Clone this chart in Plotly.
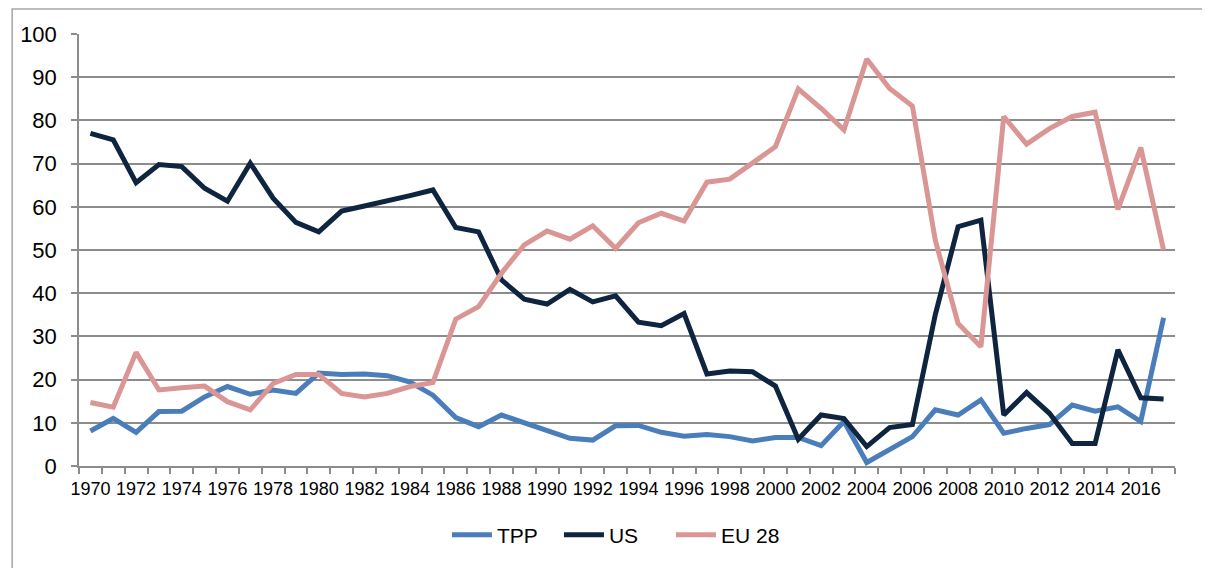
import plotly.graph_objects as go

years = list(range(1970, 2018))

tpp = [8.1, 11.0, 7.8, 12.6, 12.7, 16.0, 18.4, 16.6, 17.6, 16.8,
       21.5, 21.2, 21.3, 20.9, 19.4, 16.4, 11.2, 9.1, 11.8, 10.0,
       8.2, 6.4, 6.0, 9.3, 9.4, 7.8, 6.9, 7.3, 6.8, 5.8,
       6.6, 6.6, 4.7, 10.3, 0.8, 3.7, 6.8, 13.0, 11.8, 15.3,
       7.6, 8.7, 9.6, 14.1, 12.7, 13.7, 10.3, 34.3]

us = [77.0, 75.5, 65.6, 69.8, 69.3, 64.3, 61.3, 70.1, 62.0, 56.4,
      54.2, 59.0, 60.2, 61.3, 62.6, 63.9, 55.2, 54.2, 43.1, 38.6,
      37.5, 40.9, 38.0, 39.4, 33.3, 32.5, 35.3, 21.3, 22.0, 21.8,
      18.5, 6.2, 11.8, 11.0, 4.5, 8.9, 9.6, 35.0, 55.4, 56.9,
      11.8, 17.0, 12.2, 5.2, 5.2, 26.9, 15.8, 15.5]

eu28 = [14.7, 13.6, 26.3, 17.6, 18.1, 18.5, 14.9, 13.0, 19.1, 21.2,
        21.2, 16.8, 16.0, 16.8, 18.4, 19.3, 34.0, 36.9, 44.6, 51.2,
        54.4, 52.5, 55.6, 50.4, 56.3, 58.5, 56.7, 65.7, 66.4, 70.1,
        73.9, 87.3, 82.8, 77.8, 94.2, 87.4, 83.3, 52.3, 33.0, 27.6,
        80.9, 74.5, 78.1, 80.9, 81.9, 59.4, 73.7, 50.0]

year_labels = [str(y) for y in range(1970, 2017, 2)]

series = [("TPP", tpp, "#4a7ebb"), ("US", us, "#0f243e"), ("EU 28", eu28, "#d99694")]

fig = go.Figure()
for name, vals, color in series:
    fig.add_trace(go.Scatter(
        x=years, y=vals, name=name, mode="lines",
        line=dict(color=color, width=5),
    ))

grid = "#8c8c8c"
fig.update_layout(
    width=1202, height=560,
    margin=dict(l=68, r=35, t=26, b=102),
    paper_bgcolor="white", plot_bgcolor="white",
    font=dict(family="Liberation Sans, Arial, sans-serif", color="#000000"),
    showlegend=True,
    legend=dict(orientation="h", x=0.489, xanchor="center", y=-0.16, yanchor="middle",
                font=dict(size=21), itemwidth=40, entrywidth=57, tracegroupgap=0),
    # outer chart frame
    shapes=[dict(type="rect", xref="paper", yref="paper",
                 x0=-0.061, y0=-0.5, x1=1.2, y1=1.058,
                 line=dict(color="#a6a6a6", width=1.5))],
)
fig.update_xaxes(
    range=[1969.5, 2017.5],
    tickvals=list(range(1970, 2017, 2)), ticktext=year_labels,
    ticks="", showgrid=False, zeroline=False,
    showline=True, linecolor=grid, linewidth=1.5,
    tickfont=dict(size=18), ticklabelstandoff=6,
    minor=dict(ticks="outside", tick0=1969.5, dtick=1, ticklen=6,
               tickcolor=grid, tickwidth=1.5, showgrid=False),
)
fig.update_yaxes(
    range=[0, 100], dtick=10,
    showgrid=True, gridcolor=grid, gridwidth=1.5, zeroline=False,
    showline=True, linecolor=grid, linewidth=1.5,
    ticks="outside", ticklen=6, tickcolor=grid, tickwidth=1.5,
    tickfont=dict(size=22), ticklabelstandoff=10,
)

fig.write_html("out.html")
